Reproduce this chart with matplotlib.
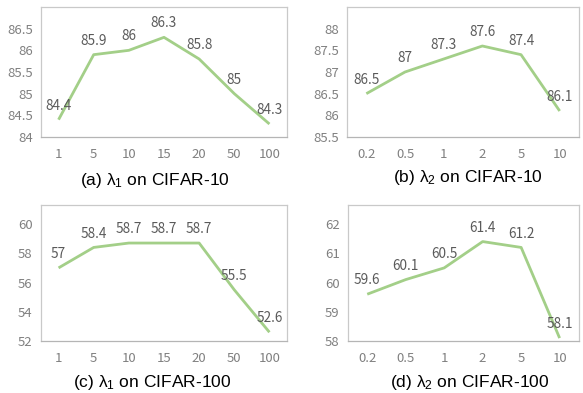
import matplotlib.pyplot as plt

plt.rcParams['font.family'] = ['Liberation Sans', 'DejaVu Sans']
plt.rcParams['mathtext.default'] = 'regular'

lam1_ticks = ["1", "5", "10", "15", "20", "50", "100"]
lam2_ticks = ["0.2", "0.5", "1", "2", "5", "10"]

acc_a = [84.4, 85.9, 86.0, 86.3, 85.8, 85.0, 84.3]
acc_b = [86.5, 87.0, 87.3, 87.6, 87.4, 86.1]
acc_c = [57.0, 58.4, 58.7, 58.7, 58.7, 55.5, 52.6]
acc_d = [59.6, 60.1, 60.5, 61.4, 61.2, 58.1]

captions = [r"(a) $\lambda_1$ on CIFAR-10", r"(b) $\lambda_2$ on CIFAR-10",
            r"(c) $\lambda_1$ on CIFAR-100", r"(d) $\lambda_2$ on CIFAR-100"]

LINE = "#a3cf88"
FRAME = "#c9c9c9"
CJK = ["Noto Sans CJK SC", "DejaVu Sans"]

fig = plt.figure(figsize=(5.83, 3.93), dpi=100)

panels = [
    ([0.0703, 0.6514, 0.422, 0.3308], lam1_ticks, acc_a, (84, 87), [84, 84.5, 85, 85.5, 86, 86.5], (155, 180)),
    ([0.5952, 0.6514, 0.398, 0.3308], lam2_ticks, acc_b, (85.5, 88.5), [85.5, 86, 86.5, 87, 87.5, 88], (468, 178)),
    ([0.0703, 0.1323, 0.422, 0.346], lam1_ticks, acc_c, (52, 61.3), [52, 54, 56, 58, 60], (152, 383)),
    ([0.5969, 0.1323, 0.396, 0.346], lam2_ticks, acc_d, (58, 62.65), [58, 59, 60, 61, 62], (470, 383)),
]

for (rect, ticks, vals, ylim, yt, cap_xy), cap in zip(panels, captions):
    ax = fig.add_axes(rect)
    x = list(range(len(ticks)))
    ax.plot(x, vals, color=LINE, lw=2.0, solid_capstyle="butt")
    for xi, v in zip(x, vals):
        ax.annotate(f"{v:g}", (xi, v), xytext=(0, 10), textcoords="offset points",
                    ha="center", va="center", fontsize=9.8, color="#5a5a5a", family=CJK)
    ax.set_xlim(-0.5, len(ticks) - 0.5)
    ax.set_ylim(*ylim)
    ax.set_xticks(x)
    ax.set_xticklabels(ticks)
    ax.set_yticks(yt)
    ax.set_yticklabels([f"{t:g}" for t in yt])
    ax.tick_params(length=0, labelsize=9.5, labelcolor="#808080", pad=6)
    ax.tick_params(axis="x", pad=8)
    for lab in ax.get_xticklabels() + ax.get_yticklabels():
        lab.set_family(CJK)
    for s in ax.spines.values():
        s.set_color(FRAME)
        s.set_linewidth(0.9)
    ax.spines["bottom"].set_color("#b5b5b5")
    fig.text(cap_xy[0] / 583, 1 - cap_xy[1] / 393, cap, ha="center", va="center",
             fontsize=12.5, color="black")

fig.savefig("out.png", dpi=100)
